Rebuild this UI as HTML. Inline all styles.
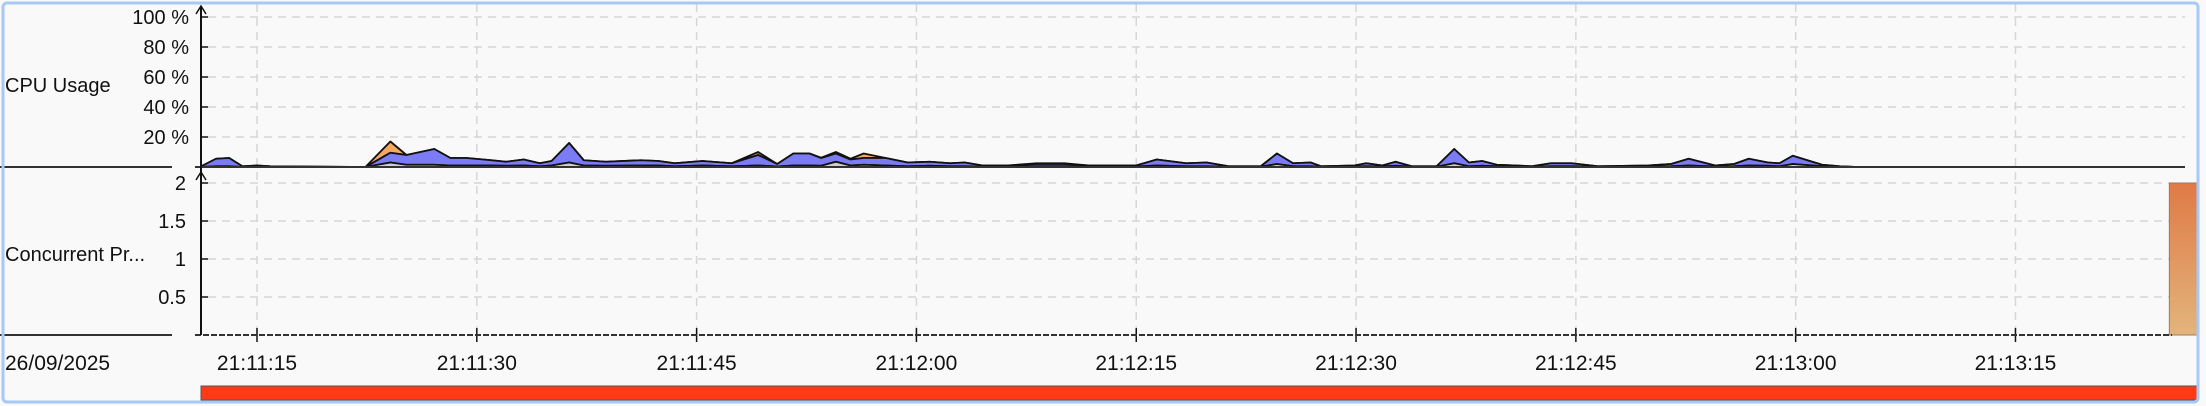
<!DOCTYPE html>
<html><head><meta charset="utf-8"><style>
html,body{margin:0;padding:0;background:#fff;}
svg{display:block;font-family:"Liberation Sans",sans-serif;}
</style></head><body>
<svg id="chart" width="2206" height="406">
<defs>
<linearGradient id="og" x1="0" y1="0" x2="0" y2="1"><stop offset="0" stop-color="#e07a46"/><stop offset="1" stop-color="#e2b47c"/></linearGradient>
</defs>
<rect x="0" y="0" width="2206" height="406" fill="#f9f9f9"/>
<g id="grid"></g>
<g id="cpu"></g>
<g id="conc"></g>
<g id="axes"></g>
<text x="5" y="92" font-size="20" fill="#111">CPU Usage</text>
<text x="5" y="261" font-size="20" fill="#111">Concurrent Pr...</text>
<text x="5" y="370" font-size="21" fill="#111">26/09/2025</text>
<rect x="201" y="386" width="1996" height="14" fill="#ff3a14" stroke="#555" stroke-width="1"/>
<rect x="3" y="3" width="2195" height="399" rx="4" fill="none" stroke="#a8c8f6" stroke-width="3"/>
</svg>
<script>
const cpuTimes=[11.1,12.2,13.1,14.0,15.0,15.9,22.4,24.1,25.2,27.1,28.2,29.3,31.0,32.0,33.2,34.3,35.1,36.3,37.3,38.8,41.2,42.4,43.5,45.4,47.4,49.2,50.5,51.6,52.7,53.5,54.5,55.5,56.4,57.9,59.4,60.9,62.3,63.3,64.5,66.2,68.2,70.1,71.8,75.0,76.4,78.4,79.8,81.3,83.5,84.6,85.7,86.9,87.6,89.9,90.7,91.8,92.7,93.8,95.5,96.7,97.7,98.6,99.6,102.0,103.3,104.7,106.5,109.9,111.5,112.7,114.5,115.8,116.8,118.1,118.9,119.8,121.8,123.0,124.2];
const cpuSystem=[0,0.5,0.5,0,0.3,0,0,3,1.5,1.5,1,1,1,0.8,1,0.5,1,3,1,0.8,1,1,0.5,1,0.5,1,0.3,1,1,0.8,3.5,1,1.5,1,0.5,0.8,0.5,0.5,0.3,0.3,0.5,0.5,0.3,0.3,1,0.5,0.5,0.2,0.2,2,0.5,0.5,0.2,0.3,0.5,0.3,0.8,0.2,0.2,2.5,0.5,0.8,0.5,0.2,0.5,0.5,0.2,0.3,0.5,1,0.3,0.5,1,0.8,0.5,2,0.5,0.2,0];
const cpuUser=[0,5,5.5,0.5,0.7,0.5,0,6.5,6.5,10.5,5,5,3.5,2.7,4,2,3,13,3.5,2.7,3.5,3,2,3,2,7,1.7,8,8,5.2,5.5,4,4.5,5,2.5,2.7,2,2.5,0.7,0.7,1.5,1.5,0.7,0.7,4,2,2.5,0.3,0.3,7,2,2.5,0.3,0.7,2,0.7,2.7,0.3,0.3,9.5,2.5,3.2,1,0.3,2,2,0.3,0.7,1.5,4.5,0.7,1.5,4.5,2.2,2,5.5,1,0.3,0];
const cpuOther=[0,0,0,0,0,0,0,7.5,0,0,0,0,0,0,0,0,0,0,0,0,0,0,0,0,0,2,0,0,0,0.2,1,0.5,3,0,0,0,0,0,0,0,0.5,0.5,0,0,0,0,0,0,0,0,0,0,0,0,0,0,0,0,0,0,0,0,0,0,0,0,0,0,0,0,0,0,0,0,0,0,0,0,0];
const concTimes=[145.5];
const concValues=[2];
const cpuTicks=[20,40,60,80,100];
const cpuTickLabels=["20 %","40 %","60 %","80 %","100 %"];
const concTicks=[0.5,1,1.5,2];
const concTickLabels=["0.5","1","1.5","2"];
const timeTicks=[15,30,45,60,75,90,105,120,135];
const timeTickLabels=["21:11:15","21:11:30","21:11:45","21:12:00","21:12:15","21:12:30","21:12:45","21:13:00","21:13:15"];

const NS="http://www.w3.org/2000/svg";
const X=t=>257+(t-15)*14.654;
const YC=v=>167-v*1.5;
const YP=v=>335-v*76;
function mk(tag,attrs,parent){const e=document.createElementNS(NS,tag);for(const k in attrs)e.setAttribute(k,attrs[k]);parent.appendChild(e);return e;}
const grid=document.getElementById('grid'),axes=document.getElementById('axes'),cpu=document.getElementById('cpu'),conc=document.getElementById('conc');

cpuTicks.forEach((v,i)=>{
  const g=mk('line',{x1:208,x2:2185,y1:YC(v),y2:YC(v),stroke:'#d6d6d6','stroke-width':1.5,'stroke-dasharray':'8,6'},grid);
  
  
  const tk=mk('line',{x1:201,x2:208,y1:YC(v),y2:YC(v),stroke:'#111','stroke-width':1.5},axes);
  
  
  const tx=mk('text',{x:189,y:YC(v)+7,'font-size':20,'text-anchor':'end',fill:'#111'},axes);
  tx.textContent=cpuTickLabels[i];
  
  
});
concTicks.forEach((v,i)=>{
  const g=mk('line',{x1:208,x2:2170,y1:YP(v),y2:YP(v),stroke:'#d6d6d6','stroke-width':1.5,'stroke-dasharray':'8,6'},grid);
  
  
  const tk=mk('line',{x1:201,x2:208,y1:YP(v),y2:YP(v),stroke:'#111','stroke-width':1.5},axes);
  
  
  const tx=mk('text',{x:186,y:YP(v)+7,'font-size':20,'text-anchor':'end',fill:'#111'},axes);
  tx.textContent=concTickLabels[i];
  
  
});
timeTicks.forEach((t,i)=>{
  const g=mk('line',{x1:X(t),x2:X(t),y1:4,y2:335,stroke:'#d6d6d6','stroke-width':1.5,'stroke-dasharray':'8,6'},grid);
  
  
  const tk=mk('line',{x1:X(t),x2:X(t),y1:328,y2:342,stroke:'#111','stroke-width':1.5},axes);
  
  
  const tx=mk('text',{x:X(t),y:370,'font-size':21,'text-anchor':'middle',fill:'#111'},axes);
  tx.textContent=timeTickLabels[i];
  
  
});

const s1=cpuSystem, s2=cpuSystem.map((v,i)=>v+cpuUser[i]), s3=s2.map((v,i)=>v+cpuOther[i]);
function area(top,bottom,fill,name){
  let d='M'+X(cpuTimes[0])+','+YC(top[0]);
  for(let i=1;i<cpuTimes.length;i++)d+=' L'+X(cpuTimes[i])+','+YC(top[i]);
  for(let i=cpuTimes.length-1;i>=0;i--)d+=' L'+X(cpuTimes[i])+','+YC(bottom[i]);
  const p=mk('path',{d:d+'Z',fill:fill,stroke:'#111','stroke-width':1.8,'stroke-linejoin':'round'},cpu);
  
  
}
const zero=cpuTimes.map(()=>0);
area(s3,s2,'#f4a860','cpu-area-other');
area(s2,s1,'#7b7bf5','cpu-area-user');
area(s1,zero,'#cfcfcf','cpu-area-system');

concTimes.forEach((t,i)=>{
  const r=mk('rect',{x:X(t),y:YP(concValues[i]),width:Math.max(0,2197-X(t)),height:YP(0)-YP(concValues[i]),fill:'url(#og)',stroke:'#a0785a','stroke-width':1},conc);
  
  
});

[[0,172,167],[195,2185,167]].forEach(a=>{
  const l=mk('line',{x1:a[0],x2:a[1],y1:a[2],y2:a[2],stroke:'#333','stroke-width':2},axes);
  
  
});
const b1=mk('line',{x1:0,x2:172,y1:335,y2:335,stroke:'#333','stroke-width':2},axes);


const b2=mk('line',{x1:195,x2:2172,y1:335,y2:335,stroke:'#333','stroke-width':2,'stroke-dasharray':'6,2'},axes);


const va=mk('line',{x1:201,x2:201,y1:6,y2:335,stroke:'#111','stroke-width':2},axes);


[6,172].forEach(y=>{
  const ar=mk('path',{d:`M196,${y+8} L201,${y} L206,${y+8}`,fill:'none',stroke:'#111','stroke-width':1.5},axes);
  
  
});
</script>
</body></html>
